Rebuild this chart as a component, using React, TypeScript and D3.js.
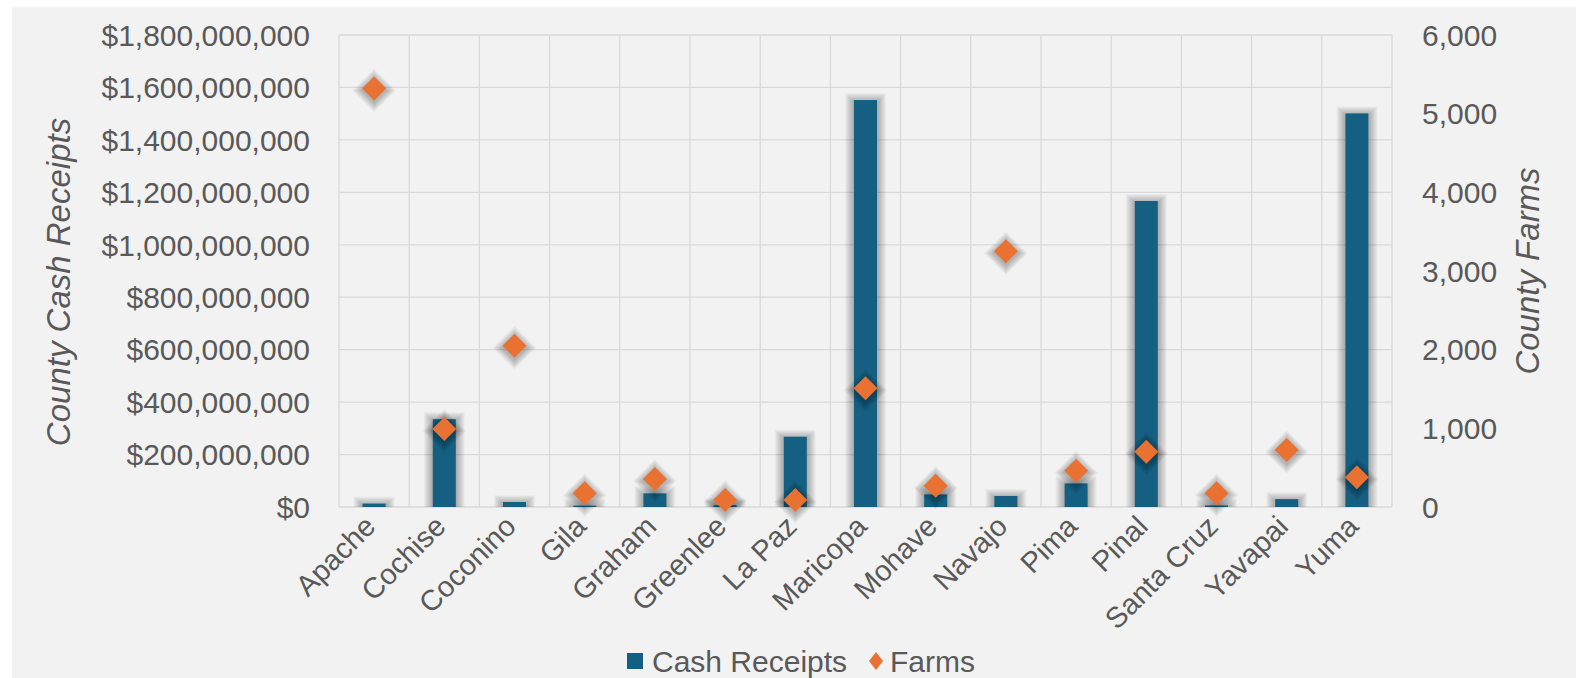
import React from "react";
import * as d3 from "d3";

const counties = ["Apache","Cochise","Coconino","Gila","Graham","Greenlee","La Paz","Maricopa","Mohave","Navajo","Pima","Pinal","Santa Cruz","Yavapai","Yuma"];
const cashReceipts = [13e6, 335e6, 19e6, 5e6, 52e6, 7e6, 268e6, 1552e6, 48e6, 42e6, 90e6, 1167e6, 6e6, 30e6, 1501e6];
const farms = [5320, 990, 2050, 174, 356, 89, 90, 1510, 271, 3250, 462, 703, 174, 724, 377];
const leftTicks = [0, 2e8, 4e8, 6e8, 8e8, 10e8, 12e8, 14e8, 16e8, 18e8];
const rightTicks = [0, 1000, 2000, 3000, 4000, 5000, 6000];

const W = 1586, H = 678;
const L = 339, R = 1392, T = 35, B = 507;
const FONT = "'Liberation Sans', Arial, sans-serif";
const TXT = "#595959";
const BAR = "#156082";
const ORANGE = "#E97132";
const LAYERS = [1, 2, 3, 4, 5, 6, 7, 8, 9, 10];

export default function App() {
  const x = d3.scaleBand<string>().domain(counties).range([L, R]).padding(0);
  const yL = d3.scaleLinear().domain([0, 1.8e9]).range([B, T]);
  const yR = d3.scaleLinear().domain([0, 6000]).range([B, T]);
  const fmtL = d3.format("$,.0f");
  const fmtR = d3.format(",");
  const bw = 23;
  const dm = 12;
  const cxOf = (c: string) => (x(c) as number) + x.bandwidth() / 2;
  return (
    <svg width={W} height={H} style={{ position: "absolute", left: 0, top: 0 }} fontFamily={FONT}>
      <rect x={0} y={0} width={W} height={H} fill="#fff" />
      <rect x={12} y={7} width={1564} height={H - 7} fill="#f2f2f2" />
      {leftTicks.map((t) => (
        <line key={"h" + t} x1={L} x2={R} y1={yL(t)} y2={yL(t)} stroke="#d9d9d9" strokeWidth={1.3} />
      ))}
      {d3.range(counties.length + 1).map((i) => {
        const xx = L + i * x.step();
        return <line key={"v" + i} x1={xx} x2={xx} y1={T} y2={B} stroke="#d9d9d9" strokeWidth={1.3} />;
      })}
      {leftTicks.map((t) => (
        <text key={"lt" + t} x={310} y={yL(t)} dy="0.36em" textAnchor="end" fontSize={30} fill={TXT}>{fmtL(t)}</text>
      ))}
      {rightTicks.map((t) => (
        <text key={"rt" + t} x={1422} y={yR(t)} dy="0.36em" textAnchor="start" fontSize={30} fill={TXT}>{fmtR(t)}</text>
      ))}
      <text transform={`translate(70,282) rotate(-90)`} textAnchor="middle" fontSize={33} fontStyle="italic" fill={TXT}>County Cash Receipts</text>
      <text transform={`translate(1539,271) rotate(-90)`} textAnchor="middle" fontSize={33} fontStyle="italic" fill={TXT}>County Farms</text>
      <g className="bar-shadows" fill="#000" pointerEvents="none">
        {counties.map((c, i) =>
          LAYERS.map((k) => {
            const cx = cxOf(c);
            const top = yL(cashReceipts[i]);
            const e = k * 0.9;
            return <rect key={"bs" + c + k} x={cx - bw / 2 - e} y={top - e + 2} width={bw + 2 * e} height={Math.max(0, B - top + e - 2)} fillOpacity={0.032} />;
          })
        )}
      </g>
      {counties.map((c, i) => {
        const cx = cxOf(c);
        return <rect key={"b" + c} x={cx - bw / 2} y={yL(cashReceipts[i])} width={bw} height={B - yL(cashReceipts[i])} fill={BAR} />;
      })}
      <g className="marker-shadows" fill="#000" pointerEvents="none">
        {counties.map((c, i) =>
          LAYERS.map((k) => {
            const cx = cxOf(c);
            const cy = yR(farms[i]) + 2;
            const r = dm + k * 1.0;
            return <path key={"ds" + c + k} d={`M${cx},${cy - r}L${cx + r},${cy}L${cx},${cy + r}L${cx - r},${cy}Z`} fillOpacity={0.028} />;
          })
        )}
      </g>
      {counties.map((c, i) => {
        const cx = cxOf(c);
        const cy = yR(farms[i]);
        return <path key={"d" + c} d={`M${cx},${cy - dm}L${cx + dm},${cy}L${cx},${cy + dm}L${cx - dm},${cy}Z`} fill={ORANGE} />;
      })}
      {counties.map((c) => {
        const cx = cxOf(c);
        return (
          <text key={"x" + c} transform={`translate(${cx - 4},${521}) rotate(-45)`} textAnchor="end" dy="0.35em" fontSize={29} fill={TXT}>{c}</text>
        );
      })}
      <rect x={627} y={653} width={16} height={16} fill={BAR} />
      <text x={652} y={661} dy="0.36em" fontSize={30} fill={TXT}>Cash Receipts</text>
      <path d={`M876,652L883,661L876,670L869,661Z`} fill={ORANGE} />
      <text x={890} y={661} dy="0.36em" fontSize={30} fill={TXT}>Farms</text>
    </svg>
  );
}
